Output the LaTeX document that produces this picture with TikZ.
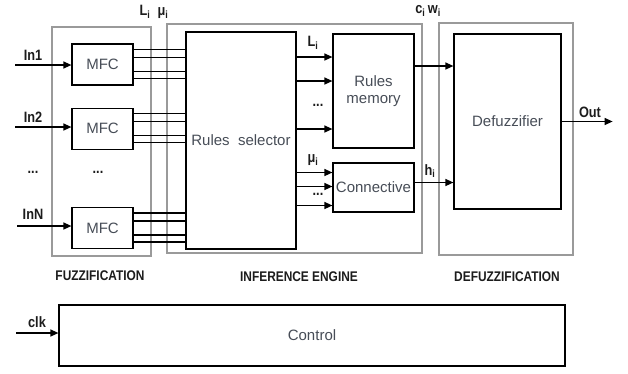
\documentclass[tikz,border=0pt]{standalone}
\usepackage{fontspec}
\setmainfont{Liberation Sans}
\newfontfamily\tagfont[FakeStretch=0.85]{Liberation Sans}
\usepackage{xcolor}
\usepackage{tikz}
\usetikzlibrary{arrows.meta,positioning}
\definecolor{fzFrame}{HTML}{9A9A9A}
\definecolor{fzInk}{HTML}{474D57}
\definecolor{fzTag}{HTML}{1C1C1C}
\tikzset{
  stage box/.style={draw=fzFrame,line width=1.2pt,inner sep=0pt},
  unit box/.style={draw=black,line width=1.2pt,fill=white,inner sep=0pt,
    font=\fontsize{15}{17}\selectfont,text=fzInk,align=center},
  mfc box/.style={unit box,minimum width=61pt,minimum height=41pt},
  signal arrow/.style={-{Triangle[length=8pt,width=7pt]},line width=1.3pt},
  bus line/.style={line width=1.3pt},
  signal label/.style={font=\tagfont\bfseries\fontsize{15}{17}\selectfont,text=fzTag,inner sep=1pt},
  stage title/.style={font=\tagfont\bfseries\fontsize{14}{16}\selectfont,text=fzTag,inner sep=1pt}
}
\begin{document}
\begin{tikzpicture}[x=1pt,y=-1pt]
\useasboundingbox (0,0) rectangle (628,373);
% stages
\node[stage box,minimum width=99pt,minimum height=229pt] (fuz) at (101.5,141.5) {};
\node[stage box,minimum width=255pt,minimum height=229pt] (inf) at (294.5,138.5) {};
\node[stage box,minimum width=134pt,minimum height=232pt] (def) at (506,139) {};
\node[stage title] (fuzTitle) at (100,276) {FUZZIFICATION};
\node[stage title] (infTitle) at (299,277) {INFERENCE ENGINE};
\node[stage title] (defTitle) at (507,277) {DEFUZZIFICATION};
% fuzzification
\node[mfc box] (mfc1) at (102.5,64.5) {MFC};
\node[mfc box,below=22pt of mfc1] (mfc2) {MFC};
\node[mfc box,below=57pt of mfc2] (mfc3) {MFC};
\node[signal label] (in1) at (33,55) {In1};
\node[signal label] (in2) at (33,117) {In2};
\node[signal label] (inN) at (33,214) {InN};
\node[signal label] (inDots) at (33,172) {...};
\node[signal label] (mfcDots) at (98,172) {...};
\coordinate (src1) at (15,65);
\coordinate (src2) at (15,127);
\coordinate (srcN) at (17,226);
\draw[signal arrow] (src1) -- (src1 -| mfc1.west);
\draw[signal arrow] (src2) -- (src2 -| mfc2.west);
\draw[signal arrow] (srcN) -- (srcN -| mfc3.west);
% inference engine
\node[unit box,minimum width=110pt,minimum height=217pt] (sel) at (241,140.5) {Rules\ \ selector};
\node[unit box,minimum width=81pt,minimum height=114pt] (mem) at (373.5,91) {Rules\\memory};
\node[unit box,minimum width=81pt,minimum height=49pt] (con) at (373.5,187.5) {Connective};
\node[signal label] (lsTop) at (154,12) {L\textsubscript{i}\ \ μ\textsubscript{i}};
\node[signal label] (lsIn) at (313,43) {L\textsubscript{i}};
\node[signal label] (muIn) at (313,160) {μ\textsubscript{i}};
\node[signal label] (memDots) at (318,105) {...};
\node[signal label] (conDots) at (318,194) {...};
\foreach \m in {1,2,3}
  \foreach \d in {-15,-7,7,14} {
    \path (mfc\m.east) ++(0,\d) coordinate (p);
    \draw[bus line] (p) -- (p -| sel.west);
  }
\foreach \d in {-34,-10,38} {
  \path (mem.west) ++(0,\d) coordinate (q);
  \draw[signal arrow] (q -| sel.east) -- (q);
}
\foreach \d in {-15,-1,18} {
  \path (con.west) ++(0,\d) coordinate (q);
  \draw[signal arrow] (q -| sel.east) -- (q);
}
% defuzzification
\node[unit box,minimum width=107pt,minimum height=175pt] (dfz) at (507.5,121.5) {Defuzzifier};
\node[signal label] (cw) at (428,11) {c\textsubscript{i}\,w\textsubscript{i}};
\node[signal label] (hi) at (430,171) {h\textsubscript{i}};
\node[signal label] (outLbl) at (590,112) {Out};
\path (mem.east) ++(0,-25) coordinate (cwSrc);
\path (con.east) ++(0,-5) coordinate (hiSrc);
\path (dfz.east) ++(51,0) coordinate (outEnd);
\draw[signal arrow] (cwSrc) -- (cwSrc -| dfz.west);
\draw[signal arrow] (hiSrc) -- (hiSrc -| dfz.west);
\draw[signal arrow] (dfz.east) -- (outEnd);
% control
\node[unit box,minimum width=506pt,minimum height=61pt] (ctl) at (312,335.5) {Control};
\node[signal label] (clk) at (37,322) {clk};
\coordinate (clkSrc) at (16,333);
\draw[signal arrow] (clkSrc) -- (clkSrc -| ctl.west);
\end{tikzpicture}
\end{document}
